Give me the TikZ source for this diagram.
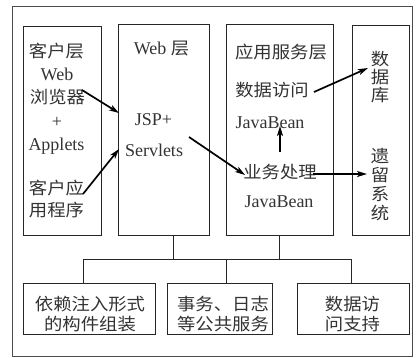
\documentclass[tikz,border=0pt]{standalone}
\usepackage{fontspec}
\setmainfont{Liberation Serif}
\newfontfamily\cjk[FakeStretch=1.08]{Noto Sans CJK SC}
\usetikzlibrary{arrows.meta}
\begin{document}
\begin{tikzpicture}[x=1pt,y=-1pt,
  box/.style={draw=black!85,line width=0.8pt,inner sep=0pt},
  lat/.style={inner sep=0pt,text=black!80,font=\fontsize{18}{22}\selectfont},
  zh/.style={inner sep=0pt,text=black!80,align=center,font=\cjk\fontsize{17}{22}\selectfont},
  link/.style={draw=black!85,line width=0.8pt},
  arr/.style={draw=black,line width=1.7pt,-{Stealth[length=10pt,width=6pt,inset=2.5pt]}}]
\useasboundingbox (0,0) rectangle (420,357);
% frame
\node[box,draw=black!70,minimum width=400pt,minimum height=350pt] (frame) at (212,181) {};
% top boxes
\node[box,minimum width=78pt,minimum height=209pt] (client) at (62,130.5) {};
\node[box,minimum width=91pt,minimum height=211pt] (web) at (163.5,129.5) {};
\node[box,minimum width=107pt,minimum height=211pt] (app) at (279.5,129.5) {};
\node[box,minimum width=57pt,minimum height=210pt] (store) at (380.5,130) {};
% bottom boxes
\node[box,minimum width=132pt,minimum height=51pt] (b1) at (89,308.5) {};
\node[box,minimum width=105pt,minimum height=51pt] (b2) at (219.5,308.5) {};
\node[box,minimum width=112pt,minimum height=51pt] (b3) at (353,308.5) {};
% client texts
\node[zh] (t1) at (56.5,51) {客户层};
\node[lat] (t2) at (57,74) {Web};
\node[zh] (t3) at (57.5,97) {浏览器};
\node[lat] (t4) at (57,122) {+};
\node[lat] (t5) at (56.5,146) {Applets};
\node[zh,font=\cjk\fontsize{17}{22}\selectfont] (t6) at (56.5,199) {客户应\\用程序};
% web texts
\node[lat] (w1) at (161.5,49) {Web {\cjk\fontsize{17}{22}\selectfont 层}};
\node[lat] (w2) at (153.5,120) {JSP+};
\node[lat] (w3) at (154,150) {Servlets};
% app texts
\node[zh] (s1) at (281,52) {应用服务层};
\node[zh] (s2) at (272,90) {数据访问};
\node[lat] (s3) at (270,123) {JavaBean};
\node[zh] (s4) at (280,172) {业务处理};
\node[lat] (s5) at (279,202) {JavaBean};
% store texts
\node[zh,font=\cjk\fontsize{17}{18}\selectfont] (d1) at (380,77.5) {数\\据\\库};
\node[zh,font=\cjk\fontsize{17}{19.3}\selectfont] (d2) at (380,184.5) {遗\\留\\系\\统};
% bottom texts
\node[zh,font=\cjk\fontsize{17}{20.5}\selectfont] (c1) at (90,314) {依赖注入形式\\的构件组装};
\node[zh,font=\cjk\fontsize{17}{20.5}\selectfont] (c2) at (223,314) {事务、日志\\等公共服务};
\node[zh,font=\cjk\fontsize{17}{20.5}\selectfont] (c3) at (352.5,314) {数据访\\问支持};
% tree connectors
\coordinate (hL) at (83,259);
\coordinate (hM) at (226,259);
\coordinate (hR) at (351,259);
\coordinate (hW) at (173,259);
\draw[link] (hL) -- (hR);
\draw[link] (hW) -- (hW |- web.south);
\draw[link] (app.south) -- (app.south |- hL);
\draw[link] (hL) -- (hL |- b1.north);
\draw[link] (hM) -- (hM |- b2.north);
\draw[link] (hR) -- (hR |- b3.north);
% arrows
\coordinate (a1s) at (82,90);  \coordinate (a1e) at (119,113);
\coordinate (a2s) at (83,194); \coordinate (a2e) at (119,149);
\coordinate (a3s) at (189,137); \coordinate (a3e) at (245,175);
\coordinate (a4s) at (280,152); \coordinate (a4e) at (280,126);
\coordinate (a5s) at (314,92); \coordinate (a5e) at (368,68);
\coordinate (a6s) at (313,174); \coordinate (a6e) at (367,174);
\draw[arr] (a1s) -- (a1e);
\draw[arr] (a2s) -- (a2e);
\draw[arr] (a3s) -- (a3e);
\draw[arr] (a4s) -- (a4e);
\draw[arr] (a5s) -- (a5e);
\draw[arr] (a6s) -- (a6e);
\end{tikzpicture}
\end{document}
